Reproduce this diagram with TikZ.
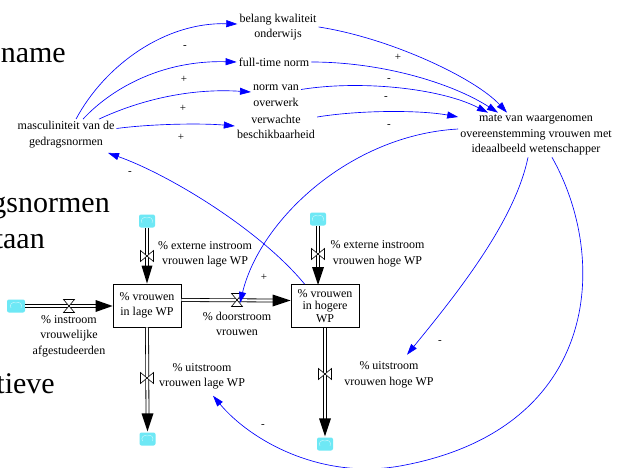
\documentclass[tikz,border=0pt]{standalone}
\usepackage{fontspec}
\setmainfont{Liberation Serif}
\usetikzlibrary{arrows.meta}
\definecolor{cloudc}{RGB}{110,232,245}
\newcommand\myvalveV[1]{\filldraw[fill=white,draw=black,line width=0.6pt,shift={(#1)}] (-6.5,-5.5) -- (-6.5,5.5) -- (6.5,-5.5) -- (6.5,5.5) -- cycle;}
\newcommand\myvalveH[1]{\filldraw[fill=white,draw=black,line width=0.6pt,shift={(#1)}] (-5.5,-6.5) -- (5.5,-6.5) -- (-5.5,6.5) -- (5.5,6.5) -- cycle;}
\begin{document}
\begin{tikzpicture}[x=1pt,y=-1pt,
 lbl/.style={align=center, inner sep=2pt, font=\fontsize{12}{15.5}\selectfont},
 pol/.style={inner sep=0pt, font=\fontsize{11}{11}\selectfont},
 big/.style={inner sep=0pt, font=\fontsize{30}{30}\selectfont, anchor=base east},
 stock/.style={draw, line width=0.8pt, align=center, minimum width=68pt, minimum height=43pt, inner sep=1pt, font=\fontsize{12}{15.5}\selectfont},
 cloudn/.style={fill=cloudc, rounded corners=2pt, minimum width=16pt, minimum height=13pt, inner sep=0pt},
 pipe/.style={double=white, double distance=2.2pt, line width=0.8pt},
 infl/.style={blue, line width=0.65pt, -{Triangle[length=11pt,width=7pt]}},
]
\clip (0,0) rectangle (629,468);
\fill[white] (0,0) rectangle (629,468);

% background text fragments
\node[big] (bg1) at (66,63) {name};
\node[big] (bg2) at (110,212) {gsnormen};
\node[big] (bg3) at (45,248) {taan};
\node[big] (bg4) at (55,393) {tieve};

% variables
\node[lbl] (belang) at (278,27) {belang kwaliteit\\onderwijs};
\node[lbl] (fulltime) at (274,62) {full-time norm};
\node[lbl] (overwerk) at (276,95.5) {norm van\\overwerk};
\node[lbl] (beschik) at (276,127) {verwachte\\beschikbaarheid};
\node[lbl] (masc) at (66,134.5) {masculiniteit van de\\gedragsnormen};
\node[lbl] (mate) at (536,135) {mate van waargenomen\\overeenstemming vrouwen met\\ideaalbeeld wetenschapper};

% stocks
\node[stock] (stockL) at (147,305.5) {\% vrouwen\\in lage WP};
\node[stock, font=\fontsize{12}{12.5}\selectfont] (stockH) at (325,306) {\% vrouwen\\in hogere\\WP};

% clouds
\node[cloudn, minimum width=18pt] (cL) at (16,306) {};
\node[cloudn] (cEL) at (147,221) {};
\node[cloudn] (cUL) at (147.5,439) {};
\node[cloudn] (cEH) at (318,219) {};
\node[cloudn] (cUH) at (325,444) {};
\foreach \cc in {cL,cEL,cUL,cEH,cUH}{
  \draw[white, line width=0.4pt, opacity=0.7] ([shift={(-5,2)}]\cc.center) .. controls ([shift={(-7,-1)}]\cc.center) and ([shift={(-4,-5)}]\cc.center) .. ([shift={(0,-3)}]\cc.center) .. controls ([shift={(3,-5)}]\cc.center) and ([shift={(7,-2)}]\cc.center) .. ([shift={(5,2)}]\cc.center);
}

% valve positions
\coordinate (vI) at (69,306);
\coordinate (vEL) at (147,256);
\coordinate (vD) at (237,300);
\coordinate (vUL) at (147,378);
\coordinate (vEH) at (318,254);
\coordinate (vUH) at (325,374);
\coordinate (tEH) at (318,285);

% pipes
\draw[pipe] (cL.east) -- ([xshift=-15]stockL.west |- cL.east);
\draw[pipe] (cEL.south) -- ([yshift=15]stockL.north);
\draw[pipe] ([yshift=5.5]stockL.east) -- ([xshift=-15,yshift=5.5]stockH.west);
\draw[pipe] (stockL.south) -- ([yshift=15]cUL.north);
\draw[pipe] (cEH.south) -- (vEH) -- ([yshift=15]tEH);
\draw[pipe] (stockH.south) -- ([yshift=15]cUH.north);

% flow arrowheads
\fill (stockL.west |- cL.east) -- ++(-17,-6) -- ++(0,12) -- cycle;
\fill (stockL.north) -- ++(-5.5,-18) -- ++(11,0) -- cycle;
\fill ([yshift=5.5]stockH.west) -- ++(-18,-6) -- ++(0,12) -- cycle;
\fill ([yshift=1]cUL.north) -- ++(-6,-18) -- ++(12,0) -- cycle;
\fill (tEH) -- ++(-6,-18) -- ++(12,0) -- cycle;
\fill ([yshift=1]cUH.north) -- ++(-6,-18) -- ++(12,0) -- cycle;

% valves
\myvalveH{vI}
\myvalveV{vEL}
\myvalveH{vD}
\myvalveV{vUL}
\myvalveV{vEH}
\myvalveV{vUH}

% flow labels
\node[lbl] (iL) at (69,336) {\% instroom\\vrouwelijke\\afgestudeerden};
\node[lbl] (eL) at (205,254.5) {\% externe instroom\\vrouwen lage WP};
\node[lbl] (dL) at (237,324) {\% doorstroom\\vrouwen};
\node[lbl] (uL) at (202,376.5) {\% uitstroom\\vrouwen lage WP};
\node[lbl] (eH) at (377.5,254) {\% externe instroom\\vrouwen hoge WP};
\node[lbl] (uH) at (389,375) {\% uitstroom\\vrouwen hoge WP};

% influence arrows
\draw[infl] ([xshift=10]masc.north) .. controls (105,65) and (165,22) .. ([yshift=3]belang.west);
\draw[infl] ([xshift=17]masc.north) .. controls (110,90) and (160,60) .. (fulltime.west);
\draw[infl] ([xshift=33]masc.north) .. controls (140,100) and (190,88) .. ([yshift=3.5]overwerk.west);
\draw[infl] ([yshift=6]masc.east) .. controls (150,124) and (200,123) .. ([yshift=1]beschik.west);

\draw[infl] (belang.east) .. controls (390,38) and (475,78) .. ([xshift=-29]mate.north);
\draw[infl] (fulltime.east) .. controls (380,62) and (450,82) .. ([xshift=-38]mate.north);
\draw[infl] ([yshift=6]overwerk.east) .. controls (360,80) and (440,88) .. ([xshift=-48]mate.north);
\draw[infl] ([yshift=10]beschik.east) .. controls (360,110) and (420,110) .. ([yshift=18]mate.west);

\draw[infl] ([xshift=14]stockH.north west) .. controls (260,230) and (170,175) .. ([xshift=42,yshift=-3]masc.south);
\draw[infl] ([yshift=6]mate.west) .. controls (350,135) and (260,220) .. ([xshift=3,yshift=-3]vD);
\draw[infl] ([xshift=-8]mate.south) .. controls (515,220) and (460,290) .. ([xshift=18,yshift=5]uH.north);
\coordinate (fbot) at (400,466);
\draw[infl] ([xshift=16]mate.south) .. controls (610,260) and (600,430) .. (fbot) .. controls (320,480) and (250,440) .. ([xshift=11,yshift=-4]uL.south);

% polarities
\node[pol] (p1) at (185,47) {-};
\node[pol] (p2) at (184,79) {+};
\node[pol] (p3) at (183,108) {+};
\node[pol] (p4) at (181,137) {+};
\node[pol] (p5) at (398,57) {+};
\node[pol] (p6) at (389,80) {-};
\node[pol] (p7) at (386,98) {-};
\node[pol] (p8) at (389,126) {-};
\node[pol] (p9) at (130,173) {-};
\node[pol] (p10) at (264,277) {+};
\node[pol] (p11) at (440,342) {-};
\node[pol] (p12) at (263,426) {-};
\end{tikzpicture}
\end{document}
